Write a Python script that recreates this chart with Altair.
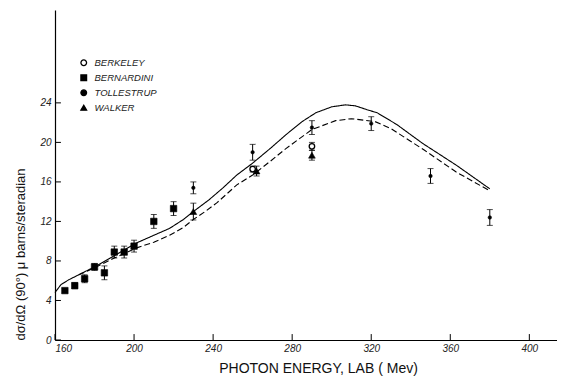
import altair as alt
import pandas as pd

# ---- data ----
bern_x = [165, 170, 175, 180, 185, 190, 195, 200, 210, 220]
bern_y = [5.0, 5.5, 6.2, 7.4, 6.8, 8.9, 8.9, 9.5, 12.0, 13.3]
bern_e = [0.2, 0.3, 0.4, 0.35, 0.7, 0.6, 0.6, 0.6, 0.7, 0.7]

berk_x = [260, 290]
berk_y = [17.3, 19.6]
berk_e = [0.3, 0.4]

toll_x = [230, 260, 290, 320, 350, 380]
toll_y = [15.4, 19.0, 21.5, 21.9, 16.6, 12.4]
toll_e = [0.6, 0.8, 0.7, 0.7, 0.75, 0.8]

walk_x = [230, 262, 290]
walk_y = [13.0, 17.1, 18.7]
walk_e = [0.85, 0.5, 0.5]

solid_x = [160, 163, 167, 171, 175, 180, 188, 195, 201, 210, 218, 225, 230, 238, 245, 252,
           260, 269, 277, 285, 292, 300, 307, 312, 318, 323, 333, 346, 363, 380]
solid_y = [4.8, 5.6, 6.1, 6.5, 6.9, 7.4, 8.3, 9.1, 9.8, 10.6, 11.3, 12.2, 13.0, 14.2, 15.4, 16.7,
           17.9, 19.4, 20.8, 22.1, 23.0, 23.6, 23.8, 23.7, 23.3, 23.0, 21.8, 19.9, 17.7, 15.3]

dash_x = [172, 180, 190, 201, 210, 218, 225, 230, 236, 242, 252, 260, 269, 277, 290, 302,
          310, 322, 330, 347, 363, 380]
dash_y = [6.6, 7.3, 8.3, 9.3, 9.9, 10.6, 11.4, 12.2, 13.0, 13.9, 15.7, 16.7, 18.1, 19.4, 21.3, 22.2,
          22.4, 22.1, 21.4, 19.2, 17.0, 15.1]

x_ticks = [160, 200, 240, 280, 320, 360, 400]
y_ticks = [0, 4, 8, 12, 16, 20, 24]

sources = ["BERKELEY", "BERNARDINI", "TOLLESTRUP", "WALKER"]
marker_size = {"BERKELEY": 30, "BERNARDINI": 42, "TOLLESTRUP": 12, "WALKER": 45}

rows = []
for name, xs, ys, es in [("BERNARDINI", bern_x, bern_y, bern_e),
                         ("BERKELEY", berk_x, berk_y, berk_e),
                         ("TOLLESTRUP", toll_x, toll_y, toll_e),
                         ("WALKER", walk_x, walk_y, walk_e)]:
    for x, y, e in zip(xs, ys, es):
        rows.append({"energy": x, "sigma": y, "lo": y - e, "hi": y + e, "source": name})
pts = pd.DataFrame(rows)

curves = pd.DataFrame(
    [{"energy": x, "sigma": y, "curve": "solid"} for x, y in zip(solid_x, solid_y)] +
    [{"energy": x, "sigma": y, "curve": "dashed"} for x, y in zip(dash_x, dash_y)]
)

xt = pd.DataFrame({"v": x_ticks})
yt = pd.DataFrame({"v": y_ticks})

X_DOM = [160, 414]
Y_DOM = [0, 33.4]

xscale = alt.Scale(domain=X_DOM, nice=False, zero=False)
yscale = alt.Scale(domain=Y_DOM, nice=False, zero=False)

xaxis = alt.Axis(values=x_ticks, title="PHOTON   ENERGY, LAB ( Mev)", tickSize=0,
                 labelPadding=3, titlePadding=8, grid=False, titleX=263, titleFontSize=14)
yaxis = alt.Axis(values=y_ticks, title="dσ/dΩ (90°) μ barns/steradian", tickSize=0,
                 labelPadding=4, titlePadding=12, grid=False, titleAnchor="start")

base_x = alt.X("energy:Q", scale=xscale, axis=xaxis)
base_y = alt.Y("sigma:Q", scale=yscale, axis=yaxis)

lines = alt.Chart(curves).mark_line(color="black", strokeWidth=1.1).encode(
    x=base_x, y=base_y,
    strokeDash=alt.StrokeDash("curve:N",
                              scale=alt.Scale(domain=["solid", "dashed"], range=[[1, 0], [6, 3]]),
                              legend=None),
    detail="curve:N",
)

bars = alt.Chart(pts).mark_rule(color="black", strokeWidth=1).encode(
    x=alt.X("energy:Q", scale=xscale), y=alt.Y("lo:Q", scale=yscale), y2="hi:Q"
)
cap_lo = alt.Chart(pts).mark_tick(color="black", size=6, thickness=1, orient="horizontal").encode(
    x=alt.X("energy:Q", scale=xscale), y=alt.Y("lo:Q", scale=yscale)
)
cap_hi = alt.Chart(pts).mark_tick(color="black", size=6, thickness=1, orient="horizontal").encode(
    x=alt.X("energy:Q", scale=xscale), y=alt.Y("hi:Q", scale=yscale)
)

legend = alt.Legend(title=None, orient="none", legendX=24, legendY=48,
                    labelFontStyle="italic", labelFontSize=9.5, labelFont="Liberation Sans",
                    labelColor="#222", rowPadding=3, symbolSize=32, symbolStrokeWidth=1.3,
                    labelOffset=6)

shape_scale = alt.Scale(domain=sources, range=["circle", "square", "circle", "triangle-up"])
fill_scale = alt.Scale(domain=sources, range=["white", "black", "black", "black"])
stroke_scale = alt.Scale(domain=sources, range=["black", "black", "black", "black"])

point_layers = []
for s in sources:
    sub = pts[pts["source"] == s]
    point_layers.append(
        alt.Chart(sub).mark_point(strokeWidth=1.3 if s == "BERKELEY" else 0.6, opacity=1,
                                  size=marker_size[s]).encode(
            x=alt.X("energy:Q", scale=xscale),
            y=alt.Y("sigma:Q", scale=yscale),
            shape=alt.Shape("source:N", scale=shape_scale, legend=legend),
            fill=alt.Fill("source:N", scale=fill_scale, legend=legend),
            stroke=alt.Stroke("source:N", scale=stroke_scale, legend=legend),
        )
    )

xtick_marks = alt.Chart(xt).mark_rule(color="black", strokeWidth=1).encode(
    x=alt.X("v:Q", scale=xscale), y=alt.datum(0, scale=yscale), y2=alt.datum(0.6)
)
ytick_marks = alt.Chart(yt).mark_rule(color="black", strokeWidth=1).encode(
    y=alt.Y("v:Q", scale=yscale), x=alt.datum(160, scale=xscale), x2=alt.datum(163)
)

chart = alt.layer(lines, bars, cap_lo, cap_hi, *point_layers, xtick_marks, ytick_marks).properties(
    width=502, height=330, padding={"left": 6, "top": 2, "right": 0, "bottom": 2}
).configure_view(stroke=None).configure_axis(
    domainColor="black", domainWidth=1.2, labelFont="Liberation Sans", labelFontStyle="italic",
    labelFontSize=10, labelColor="#222", titleFont="Liberation Sans", titleFontWeight="normal",
    titleFontSize=13, titleColor="#111"
).configure_axisX(labelAngle=0).configure_axisY(labelAngle=0)

chart.save("out.html", embed_options={"renderer": "svg", "actions": False})
